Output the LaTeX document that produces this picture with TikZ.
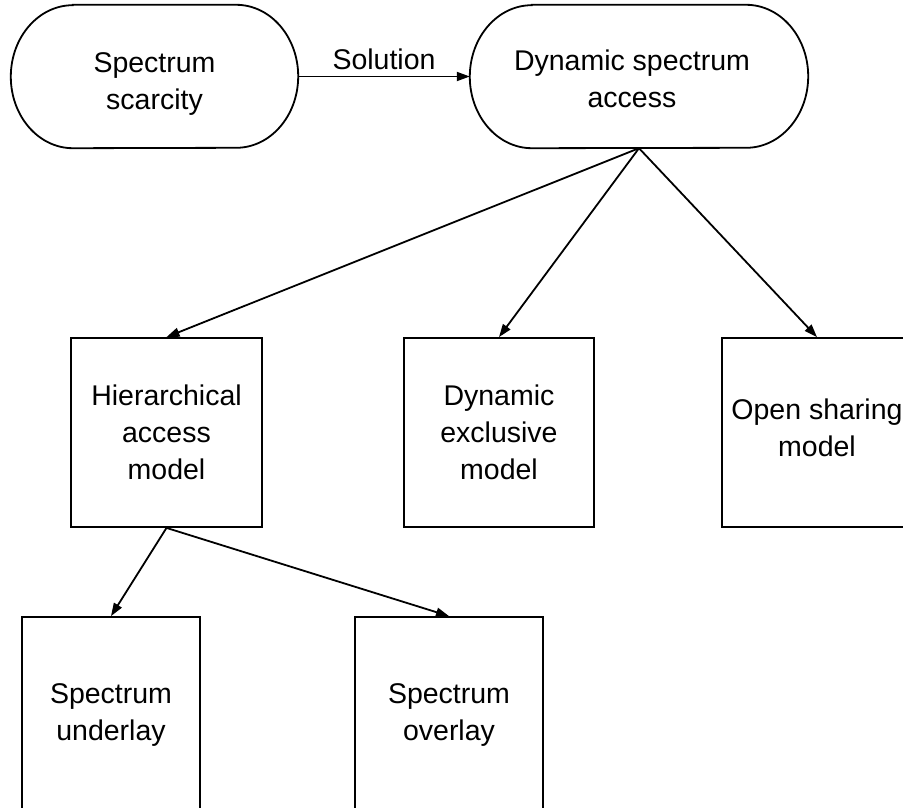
\documentclass[tikz,border=0pt]{standalone}
\usepackage{fontspec}
\setmainfont{Liberation Sans}
\usetikzlibrary{arrows.meta}
\begin{document}
\begin{tikzpicture}[x=1pt,y=-1pt,
  lw/.style={line width=1.8pt},
  arr/.style={lw,-{Triangle[length=13pt,width=9pt]}},
  txt/.style={font=\fontsize{28.5}{37}\selectfont,align=center},
  stad/.style={inner sep=0pt,minimum width=287pt,minimum height=143pt},
  boxnode/.style={txt,draw,lw,inner sep=0pt}]
\clip (0,0) rectangle (903,808);
\fill[white] (0,0) rectangle (903,808);
% stadium nodes
\node[stad] (sc) at (154.5,76.5) {};
\node[stad,minimum width=338pt] (dsa) at (639,76.5) {};
\foreach \n in {sc,dsa}{
  \draw[lw] ([xshift=62pt]\n.north west) -- ([xshift=-62pt]\n.north east)
    arc[start angle=90,end angle=-90,x radius=62pt,y radius=71.5pt]
    -- ([xshift=62pt]\n.south west)
    arc[start angle=270,end angle=90,x radius=62pt,y radius=71.5pt] -- cycle;
}
\node[txt] (sct) at (154.5,84.5) {Spectrum\\scarcity};
\node[txt] (dsat) at (632,78.5) {Dynamic spectrum\\access};
% boxes
\node[boxnode,minimum width=191pt,minimum height=189pt] (ham) at (166.5,432.5) {Hierarchical\\access\\model};
\node[boxnode,minimum width=190pt,minimum height=189pt] (dem) at (499,432.5) {Dynamic\\exclusive\\model};
\node[boxnode,minimum width=190pt,minimum height=189pt] (osm) at (817,432.5) {};
\node[txt] (osmt) at (817,427.5) {Open sharing\\model};
\node[boxnode,minimum width=178pt,minimum height=196pt] (su) at (111,715) {Spectrum\\underlay};
\node[boxnode,minimum width=188pt,minimum height=196pt] (so) at (449,715) {Spectrum\\overlay};
% connectors
\draw[arr] (sc.east) -- node[txt,above=2pt] (sol) {Solution} (dsa.west);
\draw[arr] (dsa.south) -- (ham.north);
\draw[arr] (dsa.south) -- (dem.north);
\draw[arr] (dsa.south) -- (osm.north);
\draw[arr] (ham.south) -- (su.north);
\draw[arr] (ham.south) -- (so.north);
\end{tikzpicture}
\end{document}
